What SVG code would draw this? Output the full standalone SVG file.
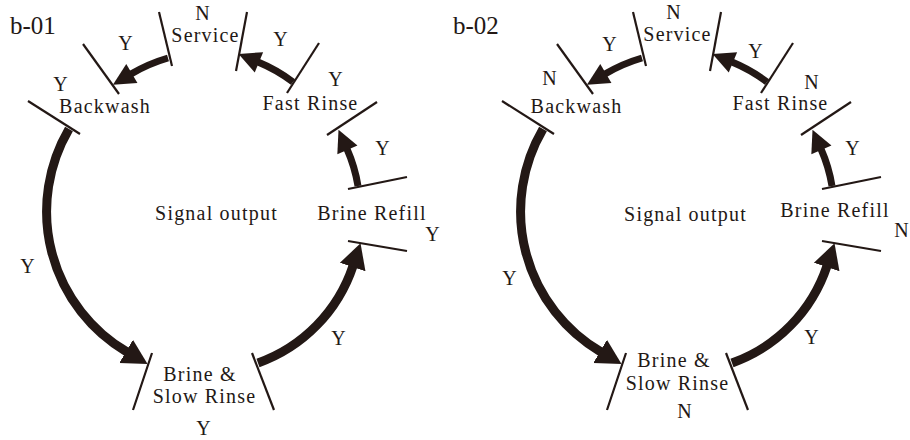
<svg xmlns="http://www.w3.org/2000/svg" width="910" height="440" viewBox="0 0 910 440">
<style>
  text { font-family: "Liberation Serif", "Times New Roman", serif; font-size: 20px; fill: #231815; letter-spacing: 1.2px; text-anchor: middle; }
  text.title { font-size: 25px; letter-spacing: 0; text-anchor: start; }
  .tick { stroke: #231815; stroke-width: 2.2; fill: none; }
  .arc { stroke: #231815; fill: none; }
  .s { stroke-width: 7; marker-end: url(#headS); }
  .l { stroke-width: 9; marker-end: url(#headL); }
</style>
<defs>
  <marker id="headS" markerUnits="userSpaceOnUse" orient="auto" markerWidth="26" markerHeight="26" viewBox="-1 -13 25 26" refX="0" refY="0">
    <path d="M-1,-11 L21,0 L-1,11 Z" fill="#231815"/>
  </marker>
  <marker id="headL" markerUnits="userSpaceOnUse" orient="auto" markerWidth="28" markerHeight="30" viewBox="-1 -14 27 28" refX="0" refY="0">
    <path d="M-1,-13 L23,0 L-1,13 Z" fill="#231815"/>
  </marker>
</defs>

<text class="title" x="10" y="34">b-01</text>
<text class="title" x="453" y="34">b-02</text>

<!-- Diagram b-01 -->
<g id="b01">
  <g id="b01-service">
    <line class="tick" x1="159" y1="12" x2="172" y2="66"/>
    <line class="tick" x1="247" y1="12" x2="236" y2="71"/>
    <text x="203" y="20">N</text>
    <text x="205.5" y="42">Service</text>
  </g>
  <g id="b01-backwash">
    <line class="tick" x1="83" y1="44" x2="119" y2="94"/>
    <line class="tick" x1="28" y1="101" x2="80" y2="134"/>
    <text x="126" y="50">Y</text>
    <text x="61" y="91">Y</text>
    <text x="105" y="113">Backwash</text>
  </g>
  <g id="b01-fastrinse">
    <line class="tick" x1="319" y1="43" x2="287" y2="93"/>
    <line class="tick" x1="377" y1="102" x2="327" y2="135"/>
    <text x="281" y="46">Y</text>
    <text x="336" y="86">Y</text>
    <text x="310.5" y="110">Fast Rinse</text>
  </g>
  <g id="b01-brinerefill">
    <line class="tick" x1="348" y1="189" x2="407" y2="177"/>
    <line class="tick" x1="348" y1="241" x2="407" y2="251"/>
    <text x="383" y="155">Y</text>
    <text x="372" y="220">Brine Refill</text>
    <text x="433" y="241">Y</text>
  </g>
  <g id="b01-brineslow">
    <line class="tick" x1="152" y1="353" x2="133" y2="410"/>
    <line class="tick" x1="252" y1="353" x2="274" y2="410"/>
    <text x="200" y="381">Brine &amp;</text>
    <text x="204.5" y="403">Slow Rinse</text>
    <text x="204" y="435">Y</text>
  </g>
  <g id="b01-signal">
    <text x="216.5" y="220">Signal output</text>
  </g>
  <g id="b01-connectors">
    <path class="arc s" d="M168,58 A162,162 0 0 0 131,74"/>
    <path class="arc s" d="M293,82 A158,158 0 0 0 258,62"/>
    <path class="arc s" d="M358,186 A152,152 0 0 0 347,149"/>
    <path class="arc l" d="M69,129 A163,163 0 0 0 127,352"/>
    <path class="arc l" d="M258,363 A155,155 0 0 0 353,266"/>
    <text x="28" y="273">Y</text>
    <text x="339" y="345">Y</text>
  </g>
</g>

<!-- Diagram b-02 -->
<g id="b02" transform="translate(474,0)">
  <g id="b02-service">
    <line class="tick" x1="159" y1="12" x2="172" y2="66"/>
    <line class="tick" x1="247" y1="12" x2="236" y2="71"/>
    <text x="200" y="19">N</text>
    <text x="203.5" y="41">Service</text>
  </g>
  <g id="b02-backwash">
    <line class="tick" x1="83" y1="44" x2="119" y2="94"/>
    <line class="tick" x1="28" y1="101" x2="80" y2="134"/>
    <text x="136" y="51">Y</text>
    <text x="76" y="85">N</text>
    <text x="102.5" y="113">Backwash</text>
  </g>
  <g id="b02-fastrinse">
    <line class="tick" x1="319" y1="43" x2="287" y2="93"/>
    <line class="tick" x1="377" y1="102" x2="327" y2="135"/>
    <text x="282" y="58">Y</text>
    <text x="338" y="89">N</text>
    <text x="306.5" y="110">Fast Rinse</text>
  </g>
  <g id="b02-brinerefill">
    <line class="tick" x1="348" y1="189" x2="407" y2="177"/>
    <line class="tick" x1="348" y1="241" x2="407" y2="251"/>
    <text x="379" y="155">Y</text>
    <text x="361" y="217">Brine Refill</text>
    <text x="428" y="237">N</text>
  </g>
  <g id="b02-brineslow">
    <line class="tick" x1="152" y1="353" x2="133" y2="410"/>
    <line class="tick" x1="252" y1="353" x2="274" y2="410"/>
    <text x="200" y="367">Brine &amp;</text>
    <text x="203.5" y="390">Slow Rinse</text>
    <text x="211" y="418">N</text>
  </g>
  <g id="b02-signal">
    <text x="211.5" y="221">Signal output</text>
  </g>
  <g id="b02-connectors">
    <path class="arc s" d="M168,58 A162,162 0 0 0 131,74"/>
    <path class="arc s" d="M293,82 A158,158 0 0 0 258,62"/>
    <path class="arc s" d="M358,186 A152,152 0 0 0 347,149"/>
    <path class="arc l" d="M69,129 A163,163 0 0 0 127,352"/>
    <path class="arc l" d="M258,363 A155,155 0 0 0 353,266"/>
    <text x="36" y="285">Y</text>
    <text x="338" y="344">Y</text>
  </g>
</g>
</svg>
